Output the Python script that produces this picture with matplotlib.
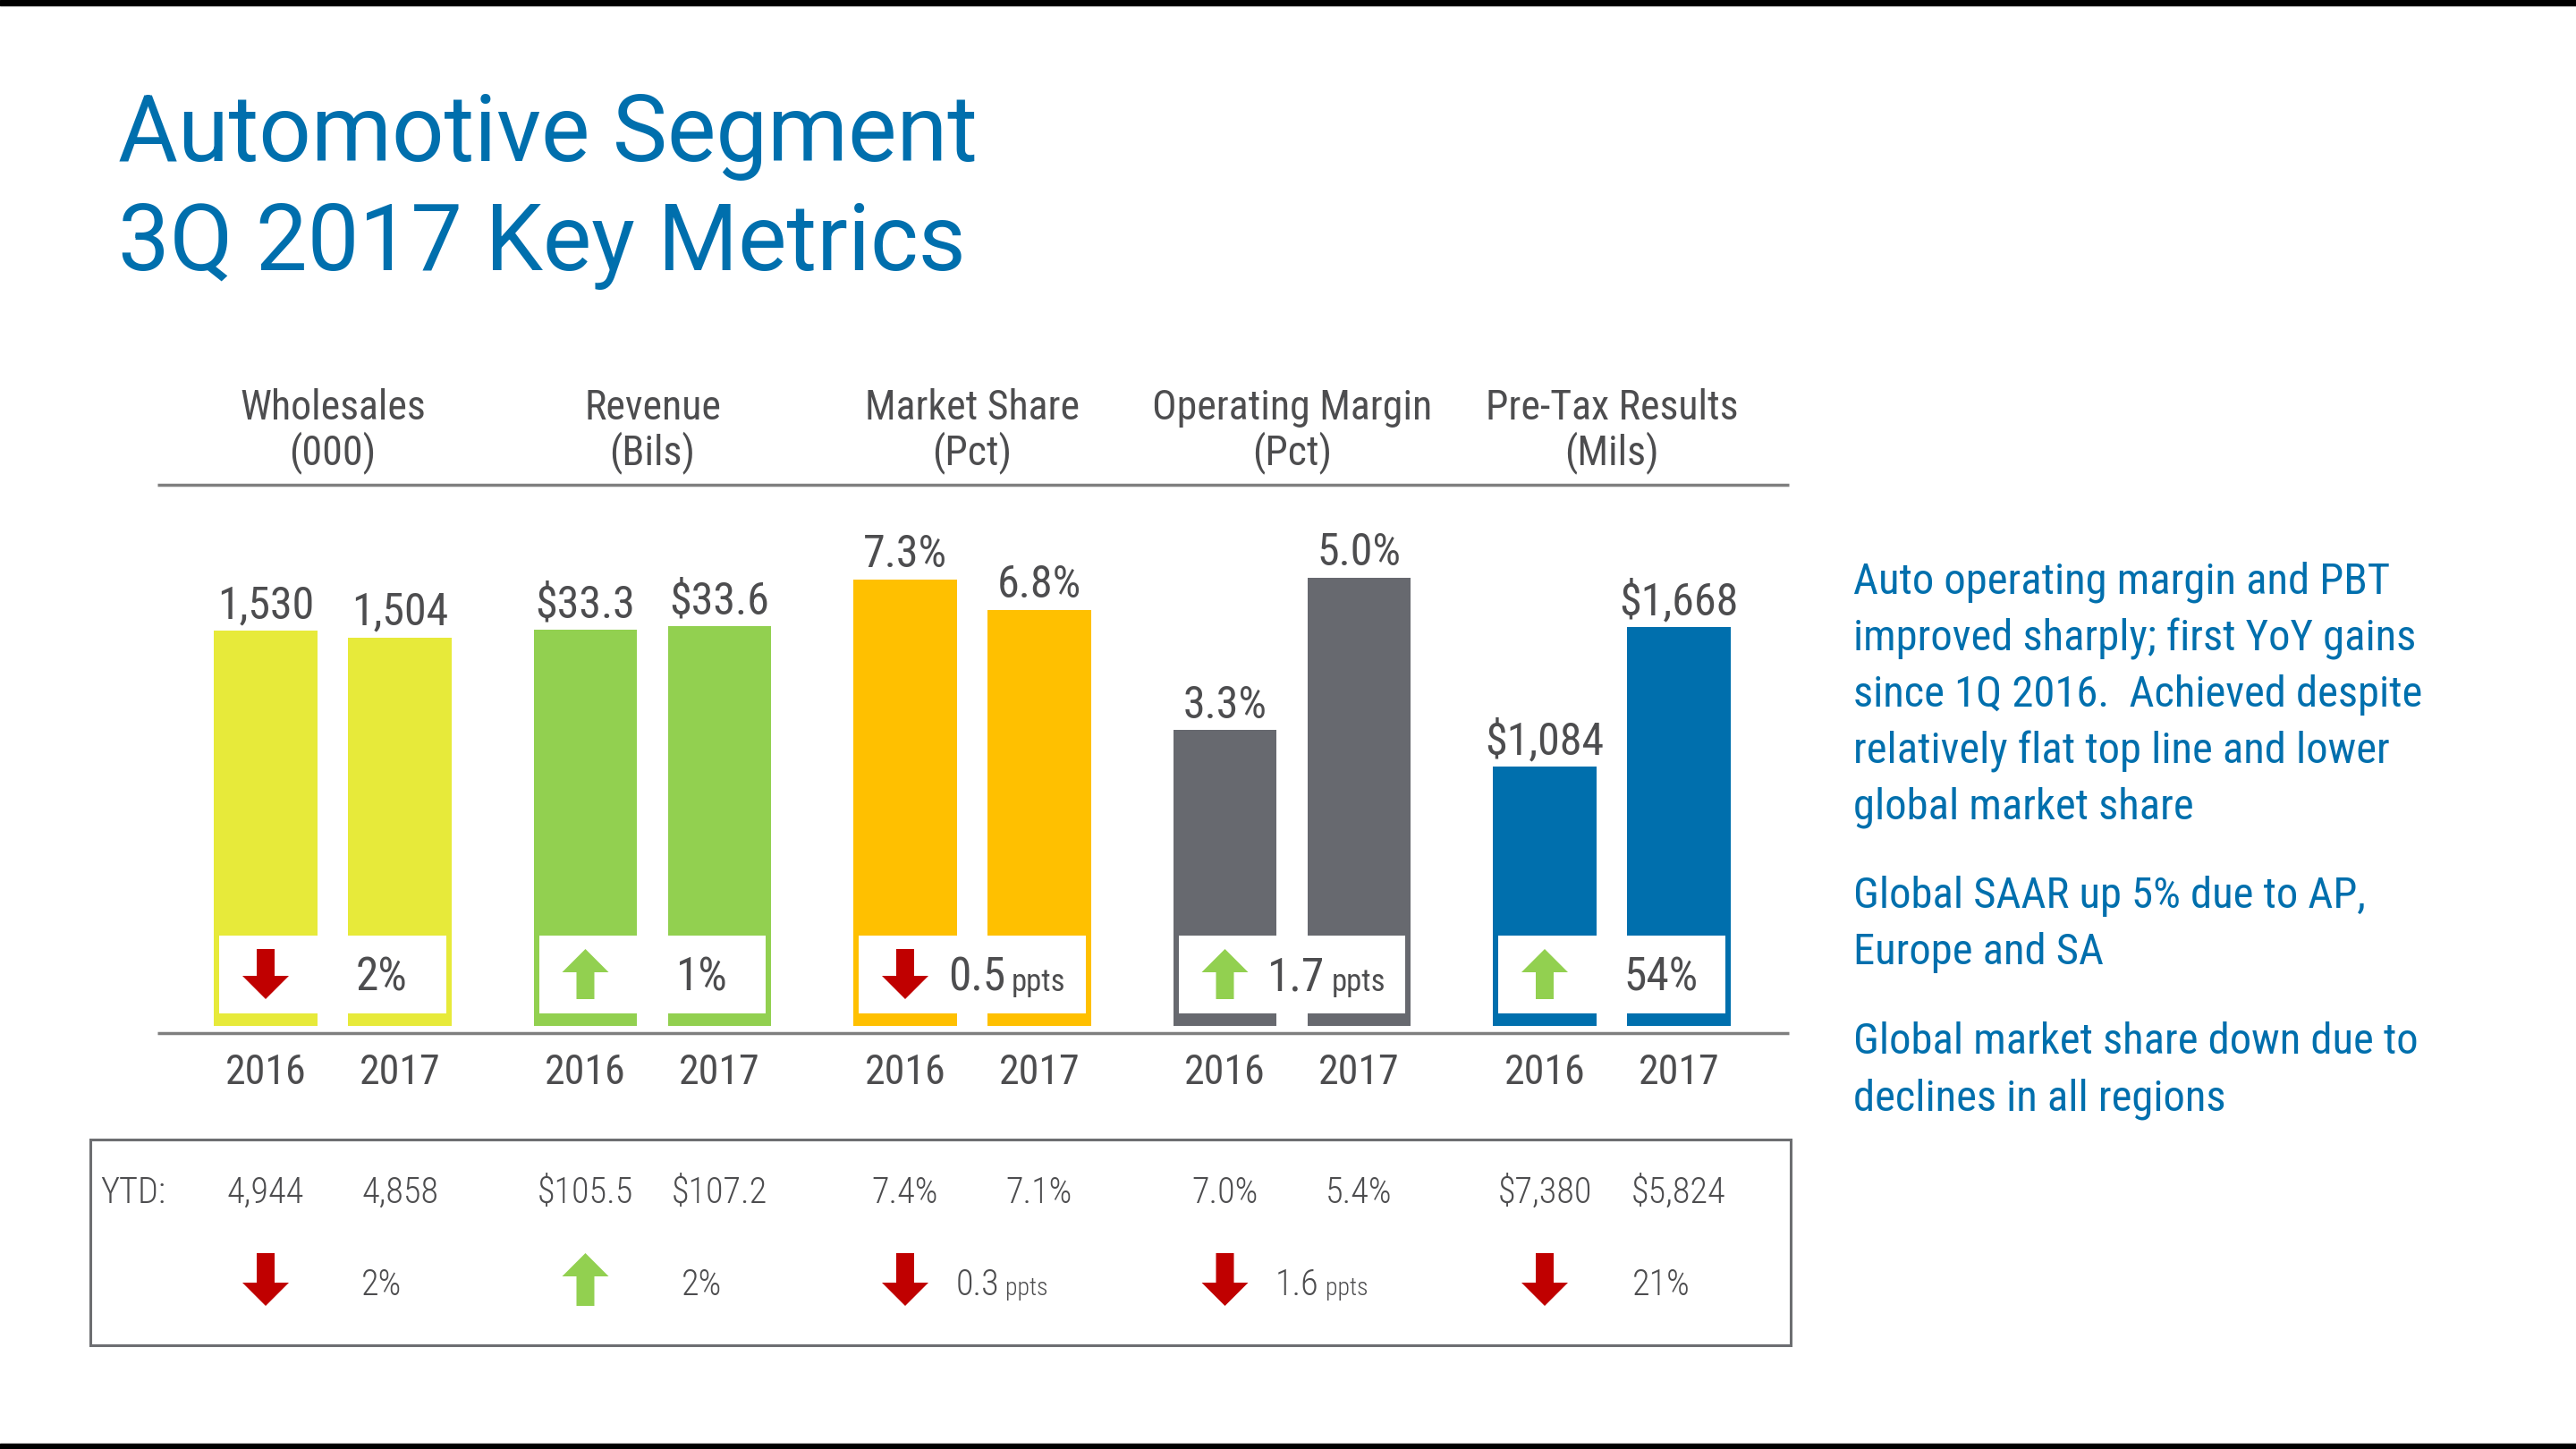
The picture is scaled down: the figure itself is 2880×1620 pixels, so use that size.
import matplotlib
matplotlib.use("Agg")
import matplotlib.pyplot as plt
import matplotlib.transforms as mtransforms
from matplotlib import font_manager
from matplotlib.patches import Rectangle, Polygon

# ---- data ----
metrics = ["Wholesales", "Revenue", "Market Share", "Operating Margin", "Pre-Tax Results"]
metric_units = ["(000)", "(Bils)", "(Pct)", "(Pct)", "(Mils)"]
years = ["2016", "2017"]
q3_2016 = [1530, 33.3, 7.3, 3.3, 1084]
q3_2017 = [1504, 33.6, 6.8, 5.0, 1668]
value_fmt = ["{:,.0f}", "${:.1f}", "{:.1f}%", "{:.1f}%", "${:,.0f}"]
q3_dir = ["down", "up", "down", "up", "up"]
q3_change = ["2%", "1%", "0.5", "1.7", "54%"]
q3_change_unit = ["", "", "ppts", "ppts", ""]

ytd_2016 = ["4,944", "$105.5", "7.4%", "7.0%", "$7,380"]
ytd_2017 = ["4,858", "$107.2", "7.1%", "5.4%", "$5,824"]
ytd_dir = ["down", "up", "down", "down", "down"]
ytd_change = ["2%", "2%", "0.3", "1.6", "21%"]
ytd_change_unit = ["", "", "ppts", "ppts", ""]

title_lines = ["Automotive Segment", "3Q 2017 Key Metrics"]
notes = [
    ["Auto operating margin and PBT", "improved sharply; first YoY gains",
     "since 1Q 2016.  Achieved despite", "relatively flat top line and lower",
     "global market share"],
    ["Global SAAR up 5% due to AP,", "Europe and SA"],
    ["Global market share down due to", "declines in all regions"],
]

# ---- style ----
bar_colors = ["#E7EA3A", "#92D050", "#FFC000", "#67696F", "#006FAD"]
ymax = [1940, 42.1, 8.19, 5.59, 2094]   # per-panel scale
BLUE = "#006FAD"
GREY_TXT = "#4D4D4F"
LINE_GREY = "#7F7F7F"
RED = "#C00000"
GREEN = "#92D050"

avail = {f.name for f in font_manager.fontManager.ttflist}


def pick(*names):
    for n in names:
        if n in avail:
            return n
    return "DejaVu Sans"


NARROW = pick("Liberation Sans Narrow", "Roboto Condensed", "Open Sans Condensed", "Roboto")
TITLE_FONT = pick("Roboto", "Lato", "Liberation Sans")
LBL_W = "normal"

W, H = 2880, 1620
fig = plt.figure(figsize=(28.8, 16.2), dpi=100)
fig.patch.set_facecolor("white")

# pixel-space overlay for decorations
ov = fig.add_axes([0, 0, 1, 1])
ov.set_xlim(0, W)
ov.set_ylim(H, 0)
ov.axis("off")
ov.patch.set_visible(False)
ov.set_zorder(5)

# black strips top / bottom
ov.add_patch(Rectangle((0, 0), W, 6, color="black"))
ov.add_patch(Rectangle((0, 1614), W, 6, color="black"))

# title
for k, line in enumerate(title_lines):
    ov.text(132, 180 + k * 122, line, fontsize=74, color=BLUE, family=TITLE_FONT,
            ha="left", va="baseline")

GX0, PITCH, PAIR = 222, 357.5, 150
BAR_BOTTOM, AX_H = 1147, 560
BAR_W = 0.773


def arrow(cx, y0, y1, direction, color):
    sw, hw, hl = 10, 26, 26
    if direction == "down":
        pts = [(cx - sw, y0), (cx + sw, y0), (cx + sw, y1 - hl), (cx + hw, y1 - hl),
               (cx, y1), (cx - hw, y1 - hl), (cx - sw, y1 - hl)]
    else:
        pts = [(cx - sw, y1), (cx + sw, y1), (cx + sw, y0 + hl), (cx + hw, y0 + hl),
               (cx, y0), (cx - hw, y0 + hl), (cx - sw, y0 + hl)]
    ov.add_patch(Polygon(pts, closed=True, color=color, lw=0))


def change_text(cx, base, num, unit, size, usize, split, single, weight="normal"):
    if unit:
        ov.text(cx + split, base, num, fontsize=size, color=GREY_TXT, family=NARROW,
                weight=weight, ha="right", va="baseline")
        ov.text(cx + split + 7, base, unit, fontsize=usize, color=GREY_TXT, family=NARROW,
                weight=weight, ha="left", va="baseline")
    else:
        ov.text(cx + single, base, num, fontsize=size, color=GREY_TXT, family=NARROW,
                weight=weight, ha="center", va="baseline")


for i, name in enumerate(metrics):
    x0 = GX0 + i * PITCH
    ax = fig.add_axes([x0 / W, (H - BAR_BOTTOM) / H, 2 * PAIR / W, AX_H / H])
    vals = [q3_2016[i], q3_2017[i]]
    ax.bar([0, 1], vals, width=BAR_W, color=bar_colors[i], zorder=1)
    ax.set_xlim(-0.5, 1.5)
    ax.set_ylim(0, ymax[i])
    ax.axis("off")
    for xi, v in enumerate(vals):
        ax.annotate(value_fmt[i].format(v), (xi, v), xytext=(0, 10),
                    textcoords="offset points", ha="center", va="baseline",
                    fontsize=36, color=GREY_TXT, family=NARROW, weight=LBL_W)
    # white change box inside the bars
    trans = mtransforms.blended_transform_factory(ax.transData, ax.transAxes)
    inset = 0.04
    ax.add_patch(Rectangle((-BAR_W / 2 + inset, 14 / AX_H), 1 + BAR_W - 2 * inset,
                           87 / AX_H, transform=trans, fc="white", ec="none", zorder=3))

    cx16, cx17 = x0 + PAIR / 2, x0 + PAIR * 1.5
    gc = x0 + PAIR

    # headers
    ov.text(gc, 469, name, fontsize=33, color=GREY_TXT, family=NARROW, weight=LBL_W,
            ha="center", va="baseline")
    ov.text(gc, 519, metric_units[i], fontsize=33, color=GREY_TXT, family=NARROW,
            weight=LBL_W, ha="center", va="baseline")
    # years
    for cx, yr in zip([cx16, cx17], years):
        ov.text(cx, 1212, yr, fontsize=33, color=GREY_TXT, family=NARROW, weight=LBL_W,
                ha="center", va="baseline")

    # quarter change
    arrow(cx16, 1061, 1117, q3_dir[i], RED if q3_dir[i] == "down" else GREEN)
    change_text(cx17, 1108, q3_change[i], q3_change_unit[i], 37, 25, -38, -20, LBL_W)

    # YTD row
    ov.text(cx16, 1345, ytd_2016[i], fontsize=29, color=GREY_TXT, family=NARROW,
            weight="light", ha="center", va="baseline")
    ov.text(cx17, 1345, ytd_2017[i], fontsize=29, color=GREY_TXT, family=NARROW,
            weight="light", ha="center", va="baseline")
    arrow(cx16, 1401, 1460, ytd_dir[i], RED if ytd_dir[i] == "down" else GREEN)
    change_text(cx17, 1448, ytd_change[i], ytd_change_unit[i], 29, 20, -45, -20, "light")

# rules
ov.plot([176, 2000], [542, 542], color=LINE_GREY, lw=2.5, solid_capstyle="butt")
ov.plot([176, 2000], [1155, 1155], color=LINE_GREY, lw=2.5, solid_capstyle="butt")

# YTD frame
ov.add_patch(Rectangle((101, 1274), 1901, 230, fill=False, ec="#6D6E71", lw=2.2))
ov.text(112, 1345, "YTD:", fontsize=29, color=GREY_TXT, family=NARROW, weight="light",
        ha="left", va="baseline")

# right-hand notes
para_base = [664, 1015, 1178]
for base, para in zip(para_base, notes):
    for k, line in enumerate(para):
        ov.text(2072, base + k * 63, line, fontsize=35, color=BLUE, family=NARROW,
                ha="left", va="baseline")

fig.savefig("out.png", dpi=100, facecolor="white")
